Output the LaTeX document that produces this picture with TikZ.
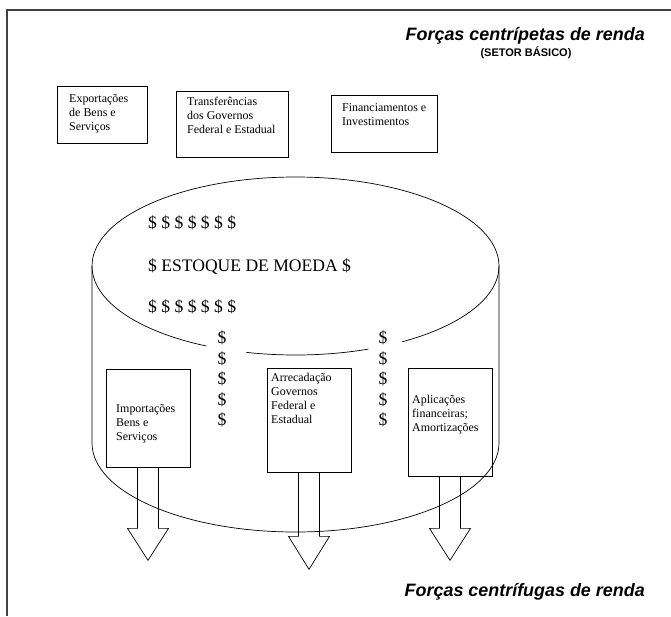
\documentclass[tikz,border=0pt]{standalone}
\usepackage{fontspec}
\setmainfont{Liberation Serif}
\setsansfont{Liberation Sans}
\begin{document}
\begin{tikzpicture}[x=0.3mm,y=0.3mm,
  caixa/.style={draw, line width=0.6pt, inner sep=0pt},
  texto/.style={font=\fontsize{10.2}{12}\selectfont, align=left, anchor=north west, inner sep=0pt},
  dolar/.style={font=\fontsize{15}{18}\selectfont, inner sep=0pt},
  titulo/.style={font=\sffamily\bfseries\itshape\fontsize{15.3}{18}\selectfont, inner sep=0pt, anchor=east},
  linha/.style={line width=0.6pt},
  seta/.style={line width=0.6pt, line join=miter}]

\useasboundingbox (0,0) rectangle (671,-616);

% moldura
\draw[line width=1pt, black!75] (7,-616) -- (7,-10) -- (671,-10);

\node[titulo] (centripetas) at (645,-36) {Forças centrípetas de renda};
\node[inner sep=0pt, font=\sffamily\bfseries\fontsize{9.4}{11}\selectfont] (setor) at (526,-53) {(SETOR BÁSICO)};
\node[titulo] (centrifugas) at (645,-592) {Forças centrífugas de renda};

% entradas
\node[caixa, minimum width=27mm, minimum height=17.1mm] (exp) at (102,-114.5) {};
\node[caixa, minimum width=33.6mm, minimum height=19.8mm] (trf) at (232,-124) {};
\node[caixa, minimum width=31.8mm, minimum height=17.1mm] (fin) at (384,-123.5) {};

\node[texto] (expT) at (69,-94) {Exportações\\de Bens e\\Serviços};
\node[texto] (trfT) at (187,-97) {Transferências\\dos Governos\\Federal e Estadual};
\node[texto] (finT) at (342,-103) {Financiamentos e\\Investimentos};

% cilindro
\coordinate (cil) at (295.5,-266);
\draw[linha] (cil) ++(0:203.5 and 89) arc[start angle=0, end angle=180, x radius=203.5, y radius=89];
\draw[linha] (cil) ++(180:203.5 and 89) arc[start angle=180, end angle=244, x radius=203.5, y radius=89];
\draw[linha] (cil) ++(256:203.5 and 89) arc[start angle=256, end angle=291, x radius=203.5, y radius=89];
\draw[linha] (cil) ++(301.5:203.5 and 89) arc[start angle=301.5, end angle=360, x radius=203.5, y radius=89];
\draw[linha] (cil) ++(-203.5,0) -- ++(0,-177) arc[start angle=180, end angle=360, x radius=203.5, y radius=89] -- ++(0,177);

\node[dolar, anchor=west] (dolA) at (148,-223) {\$ \$ \$ \$ \$ \$ \$};
\node[dolar, anchor=west] (estoque) at (148,-267) {\$ ESTOQUE DE MOEDA \$};
\node[dolar, anchor=west] (dolB) at (148,-307) {\$ \$ \$ \$ \$ \$ \$};

\node[dolar] (dolE1) at (222,-338) {\$};
\node[dolar] (dolE2) at (222,-358.5) {\$};
\node[dolar] (dolE3) at (222,-379) {\$};
\node[dolar] (dolE4) at (222,-399.5) {\$};
\node[dolar] (dolE5) at (222,-420) {\$};

\node[dolar] (dolD1) at (383,-338) {\$};
\node[dolar] (dolD2) at (383,-358.5) {\$};
\node[dolar] (dolD3) at (383,-379) {\$};
\node[dolar] (dolD4) at (383,-399.5) {\$};
\node[dolar] (dolD5) at (383,-420) {\$};

% saidas
\node[caixa, minimum width=25.2mm, minimum height=29.4mm] (imp) at (148,-418) {};
\node[caixa, minimum width=25.2mm, minimum height=31.2mm] (arr) at (309,-420) {};
\node[caixa, minimum width=25.2mm, minimum height=32.4mm] (apl) at (450,-422) {};

\node[texto] (impT) at (116,-404) {Importações\\Bens e\\Serviços};
\node[texto] (arrT) at (271,-373) {Arrecadação\\Governos\\Federal e\\Estadual};
\node[texto] (aplT) at (412,-395) {Aplicações\\financeiras;\\Amortizações};

\draw[seta] (imp.south) ++(-10.5,0) -- ++(0,-61) -- ++(-10,0) -- ++(20.5,-32) -- ++(20.5,32) -- ++(-10,0) -- ++(0,61);
\draw[seta] (arr.south) ++(-10.5,0) -- ++(0,-64) -- ++(-10,0) -- ++(20.5,-33) -- ++(20.5,33) -- ++(-10,0) -- ++(0,64);
\draw[seta] (apl.south) ++(-10.5,0) -- ++(0,-52) -- ++(-10,0) -- ++(20.5,-32) -- ++(20.5,32) -- ++(-10,0) -- ++(0,52);
\end{tikzpicture}
\end{document}
